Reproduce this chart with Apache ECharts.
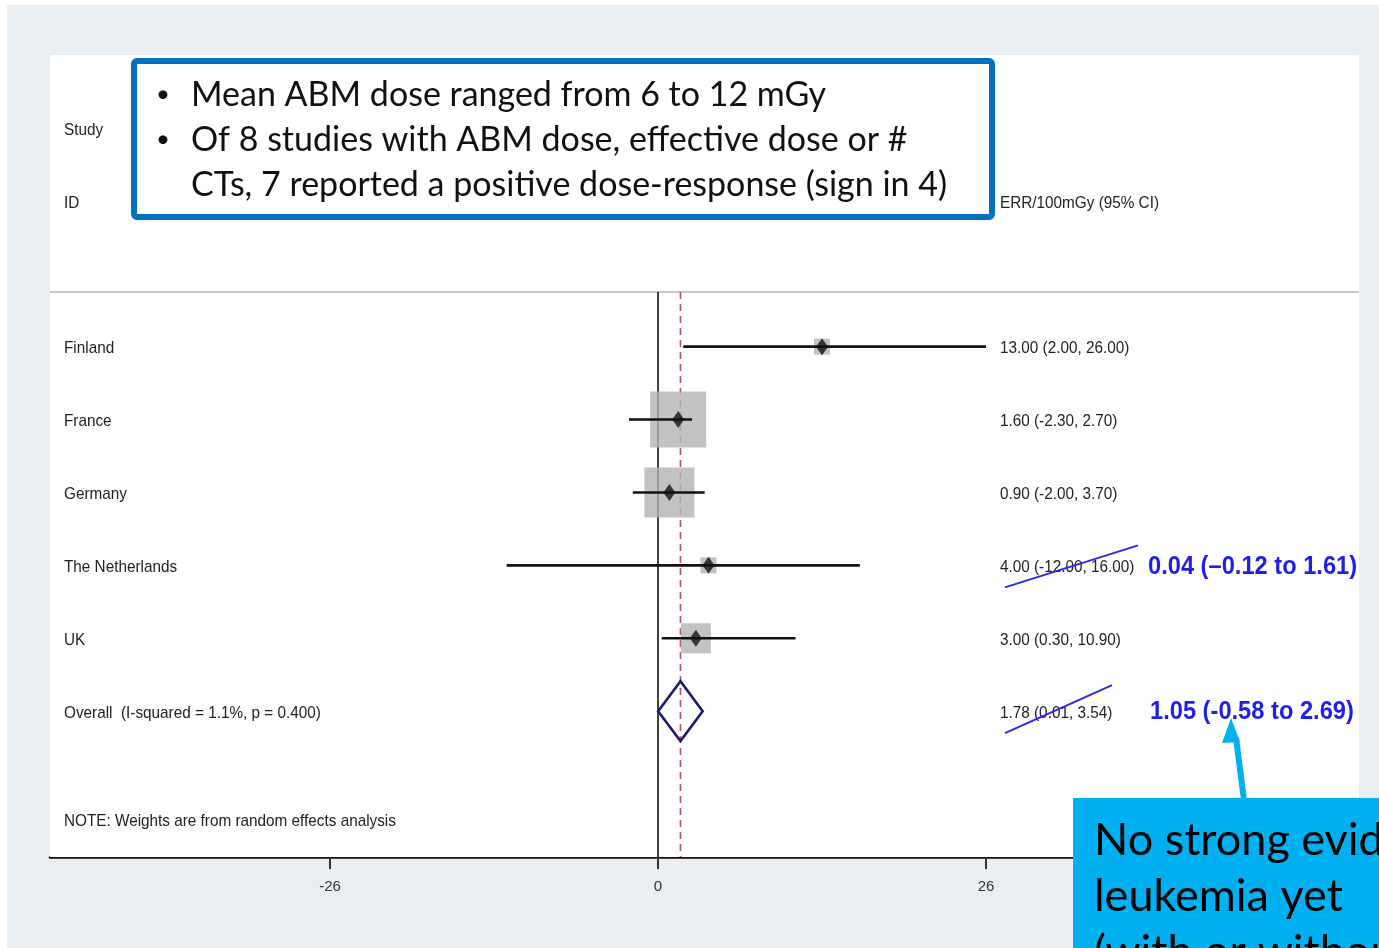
<!DOCTYPE html>
<html>
<head>
<meta charset="utf-8">
<script src="https://cdn.jsdelivr.net/npm/echarts@6/dist/echarts.min.js"></script>
<style>
  html, body { margin: 0; padding: 0; background: #ffffff; }
  #chart { width: 1379px; height: 948px; }
</style>
</head>
<body>
<div id="chart"></div>
<script>
// ---- data ----
const studies   = ['Finland', 'France', 'Germany', 'The Netherlands', 'UK'];
const estimates = [13.00, 1.60, 0.90, 4.00, 3.00];
const lowerCI   = [2.00, -2.30, -2.00, -12.00, 0.30];
const upperCI   = [26.00, 2.70, 3.70, 16.00, 10.90];
const weights   = [3.6, 44.5, 35.5, 3.6, 12.8];          // random-effects weights (%)
const overall   = [1.78, 0.01, 3.54];                     // estimate, lower, upper
const overallLabel = 'Overall  (I-squared = 1.1%, p = 0.400)';
const noteLabel    = 'NOTE: Weights are from random effects analysis';
const xTicks    = [-26, 0, 26];
// corrected estimates written next to two rows
const revisedRows  = [3, 5];
const revisedTexts = ['0.04 (\u20130.12 to 1.61)', '1.05 (-0.58 to 2.69)'];
const bulletLines  = ['Mean ABM dose ranged from 6 to 12 mGy',
                      'Of 8 studies with ABM dose, effective dose or #',
                      'CTs, 7 reported a positive dose-response (sign in 4)'];
const calloutLines = ['No strong evidence of', 'leukemia yet', '(with or without CT)'];

// ---- layout helpers ----
const OVERALL_ROW = studies.length;
const NOTE_ROW = 6.48;
const SEP_ROW = -0.75;
const X_MIN = -48.2, X_MAX = 55.57;
const plotFont = '"Liberation Sans", Arial, sans-serif';
const NARROW = 0.9;     // horizontal squeeze for the condensed plot lettering
const fmt = v => v.toFixed(2);
const ciText = (e, l, u) => `${fmt(e)} (${fmt(l)}, ${fmt(u)})`;

const chart = echarts.init(document.getElementById('chart'), null, { renderer: 'canvas' });

const leftRows = studies.map((s, i) => [i, s])
  .concat([[-3, 'Study'], [-2, 'ID'], [OVERALL_ROW, overallLabel], [NOTE_ROW, noteLabel]]);
const rightRows = studies.map((s, i) => [i, ciText(estimates[i], lowerCI[i], upperCI[i])])
  .concat([[-2, 'ERR/100mGy (95% CI)'], [OVERALL_ROW, ciText(overall[0], overall[1], overall[2])]]);

function plotText(x, y, text, font, fill) {
  return { type: 'text', x: x, y: y, scaleX: NARROW, originX: 0, originY: 0,
    style: { text: text, fill: fill, font: font, textVerticalAlign: 'middle' } };
}

const option = {
  backgroundColor: '#ffffff',
  animation: false,
  grid: { left: 50, right: 20, top: 55, bottom: 91, show: true, backgroundColor: '#ffffff', borderWidth: 0, z: 1 },
  xAxis: {
    type: 'value', min: X_MIN, max: X_MAX,
    axisLine: { show: true, onZero: false, lineStyle: { color: '#111', width: 2.5 } },
    axisTick: { show: true, customValues: xTicks, length: 12, lineStyle: { color: '#333', width: 2 } },
    axisLabel: { show: true, customValues: xTicks, margin: 22, fontSize: 15, color: '#333', fontFamily: plotFont },
    splitLine: { show: false }
  },
  yAxis: { type: 'value', min: -4, max: 7, inverse: true, show: false, splitLine: { show: false } },
  series: [
    // header separator, zero line and dashed line at the pooled estimate
    {
      type: 'custom', z: 2, silent: true,
      data: [[0]],
      renderItem: (params, api) => {
        const sepL = api.coord([X_MIN, SEP_ROW]), sepR = api.coord([X_MAX, SEP_ROW]);
        const z0 = api.coord([0, SEP_ROW]), z1 = api.coord([0, 7]);
        const d0 = api.coord([overall[0], SEP_ROW]), d1 = api.coord([overall[0], 7]);
        return { type: 'group', children: [
          { type: 'line', shape: { x1: sepL[0], y1: sepL[1], x2: sepR[0], y2: sepR[1] }, style: { stroke: '#b5b5b5', lineWidth: 1.5 } },
          { type: 'line', shape: { x1: z0[0], y1: z0[1], x2: z1[0], y2: z1[1] }, style: { stroke: '#111', lineWidth: 1.6 } },
          { type: 'line', shape: { x1: d0[0], y1: d0[1], x2: d1[0], y2: d1[1] }, style: { stroke: '#b4506a', lineWidth: 1.6, lineDash: [7, 5] } }
        ] };
      }
    },
    // weight boxes
    {
      type: 'scatter', z: 3, silent: true,
      symbol: 'rect',
      data: studies.map((s, i) => [estimates[i], i, weights[i]]),
      symbolSize: v => 8.4 * Math.sqrt(v[2]),
      itemStyle: { color: '#b3b3b3' }
    },
    // confidence intervals
    {
      type: 'custom', z: 4, silent: true,
      data: studies.map((s, i) => [lowerCI[i], upperCI[i], i]),
      renderItem: (params, api) => {
        const a = api.coord([api.value(0), api.value(2)]);
        const b = api.coord([api.value(1), api.value(2)]);
        return { type: 'line', shape: { x1: a[0], y1: a[1], x2: b[0], y2: b[1] }, style: { stroke: '#111', lineWidth: 2.6 } };
      }
    },
    // point estimates
    {
      type: 'scatter', z: 5, silent: true,
      symbol: 'diamond', symbolSize: [12, 17],
      data: studies.map((s, i) => [estimates[i], i]),
      itemStyle: { color: '#111' }
    },
    // pooled estimate diamond
    {
      type: 'custom', z: 5, silent: true,
      data: [overall],
      renderItem: (params, api) => {
        const e = api.value(0), l = api.value(1), u = api.value(2);
        const h = 0.41;
        const pts = [api.coord([l, OVERALL_ROW]), api.coord([e, OVERALL_ROW - h]),
                     api.coord([u, OVERALL_ROW]), api.coord([e, OVERALL_ROW + h])];
        return { type: 'polygon', shape: { points: pts }, style: { fill: 'none', stroke: '#1c1c6b', lineWidth: 2.6 } };
      }
    },
    // left column text
    {
      type: 'custom', z: 6, silent: true,
      data: leftRows,
      renderItem: (params, api) => {
        const y = api.coord([0, api.value(0)])[1] + 2;
        return plotText(params.coordSys.x + 14, y, leftRows[params.dataIndex][1], '17px ' + plotFont, '#222');
      }
    },
    // right column text
    {
      type: 'custom', z: 6, silent: true,
      data: rightRows,
      renderItem: (params, api) => {
        const y = api.coord([0, api.value(0)])[1] + 2;
        return plotText(params.coordSys.x + 950, y, rightRows[params.dataIndex][1], '17px ' + plotFont, '#222');
      }
    },
    // corrected values with strike-through of the printed ones
    {
      type: 'custom', z: 7, silent: true,
      data: revisedRows.map((r, k) => [r, k]),
      renderItem: (params, api) => {
        const y = api.coord([0, api.value(0)])[1];
        const k = params.dataIndex;
        const x0 = params.coordSys.x;
        const strikeEnd = k === 0 ? [x0 + 1088, y - 20] : [x0 + 1062, y - 26];
        const label = plotText(x0 + (k === 0 ? 1098 : 1100), y + 1, revisedTexts[k], 'bold 26px ' + plotFont, '#1f1fe8');
        label.scaleX = 0.91;
        return { type: 'group', children: [
          { type: 'line', shape: { x1: x0 + 955, y1: y + 22, x2: strikeEnd[0], y2: strikeEnd[1] }, style: { stroke: '#2a2ae6', lineWidth: 2 } },
          label
        ] };
      }
    }
  ],
  graphic: [
    // slide backdrop
    { type: 'rect', z: -10, silent: true, shape: { x: 7, y: 5, width: 1372, height: 943 }, style: { fill: '#e8eef1' } },
    // bullet box
    { type: 'rect', z: 100, shape: { x: 134, y: 61, width: 858, height: 156, r: 3 }, style: { fill: '#ffffff', stroke: '#0070c0', lineWidth: 6 } },
    ...bulletLines.map((t, i) => ({ type: 'text', z: 101, x: 191, y: 95 + 45 * i,
      style: { text: t, fill: '#111', font: '34px Lato, "Open Sans", sans-serif', textVerticalAlign: 'middle' } })),
    ...[0, 1].map(i => ({ type: 'text', z: 101, x: 156, y: 94 + 45 * i,
      style: { text: '\u2022', fill: '#111', font: '24px Lato, sans-serif', textVerticalAlign: 'middle' } })),
    // callout arrow
    { type: 'line', z: 100, shape: { x1: 1244, y1: 800, x2: 1236, y2: 738 }, style: { stroke: '#00b0f0', lineWidth: 6 } },
    { type: 'polygon', z: 100, shape: { points: [[1231, 718], [1222, 743], [1240, 742]] }, style: { fill: '#00b0f0' } },
    // callout box
    { type: 'rect', z: 100, shape: { x: 1073, y: 798, width: 320, height: 160 }, style: { fill: '#00b0f0' } },
    ...calloutLines.map((t, i) => ({ type: 'text', z: 101, x: 1094, y: 840 + 56 * i,
      style: { text: t, fill: '#000', font: '45px Lato, "Open Sans", sans-serif', textVerticalAlign: 'middle' } }))
  ]
};

chart.setOption(option);
</script>
</body>
</html>
